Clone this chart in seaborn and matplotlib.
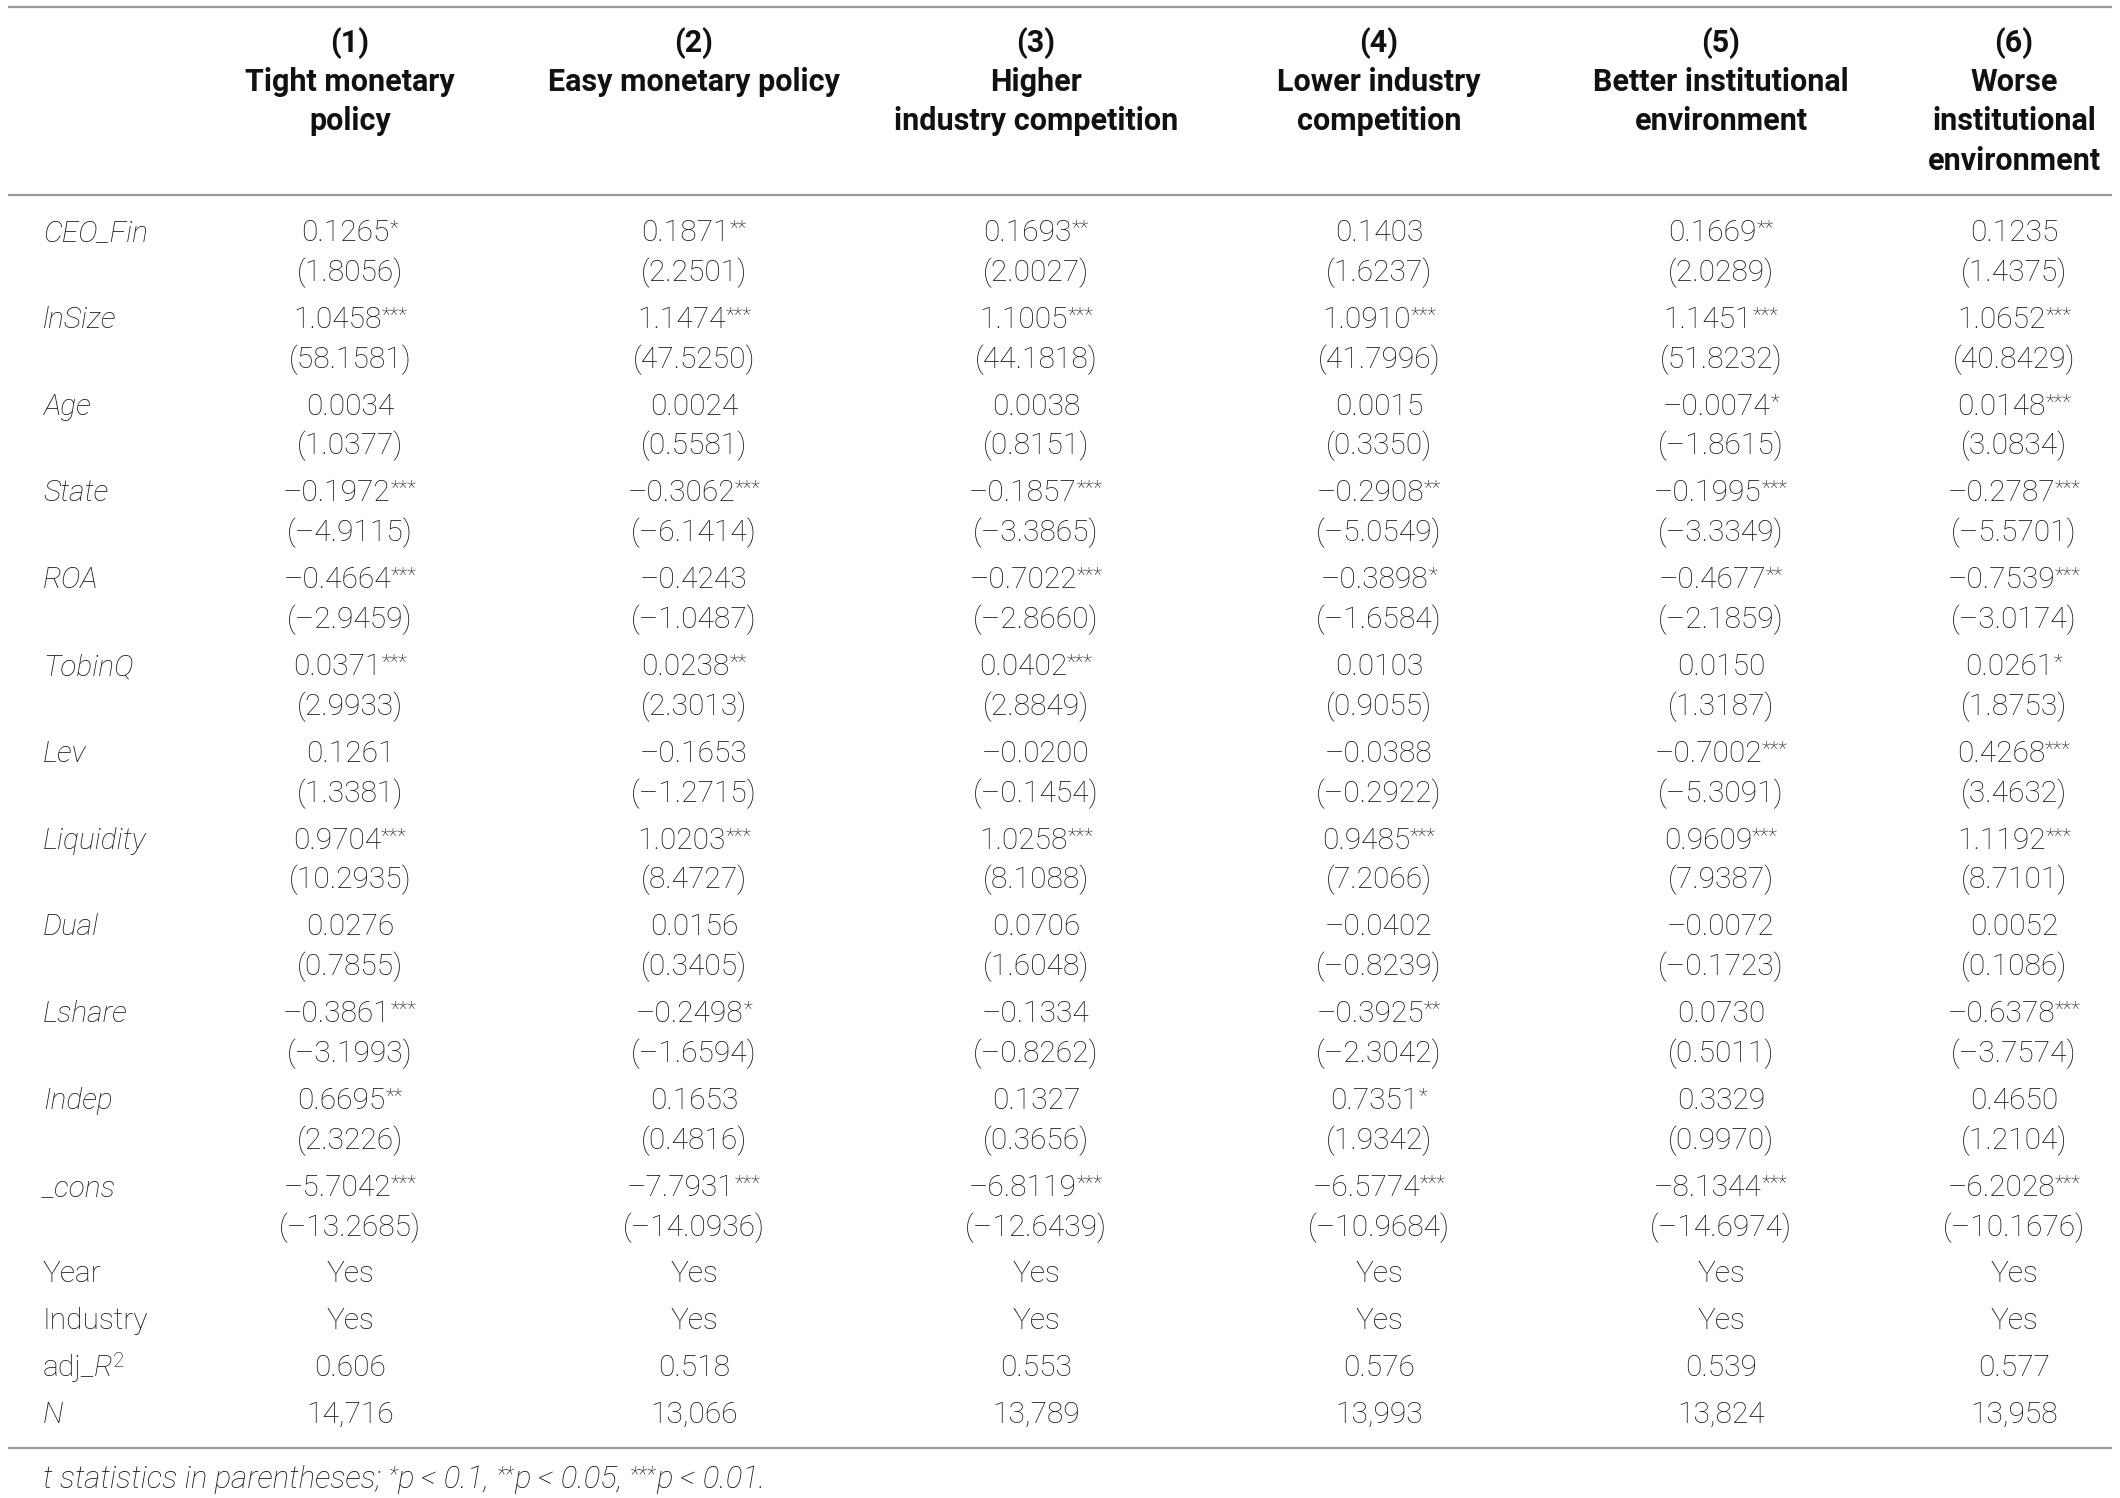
import matplotlib
matplotlib.use("Agg")
import matplotlib.pyplot as plt
import seaborn as sns

# ---------------- data ----------------
col_numbers = ["(1)", "(2)", "(3)", "(4)", "(5)", "(6)"]
col_titles = [
    ["Tight monetary", "policy"],
    ["Easy monetary policy"],
    ["Higher", "industry competition"],
    ["Lower industry", "competition"],
    ["Better institutional", "environment"],
    ["Worse", "institutional", "environment"],
]
var_names = ["CEO_Fin", "lnSize", "Age", "State", "ROA", "TobinQ", "Lev",
             "Liquidity", "Dual", "Lshare", "Indep", "_cons"]

coef_1 = [0.1265, 1.0458, 0.0034, -0.1972, -0.4664, 0.0371, 0.1261, 0.9704, 0.0276, -0.3861, 0.6695, -5.7042]
coef_2 = [0.1871, 1.1474, 0.0024, -0.3062, -0.4243, 0.0238, -0.1653, 1.0203, 0.0156, -0.2498, 0.1653, -7.7931]
coef_3 = [0.1693, 1.1005, 0.0038, -0.1857, -0.7022, 0.0402, -0.0200, 1.0258, 0.0706, -0.1334, 0.1327, -6.8119]
coef_4 = [0.1403, 1.0910, 0.0015, -0.2908, -0.3898, 0.0103, -0.0388, 0.9485, -0.0402, -0.3925, 0.7351, -6.5774]
coef_5 = [0.1669, 1.1451, -0.0074, -0.1995, -0.4677, 0.0150, -0.7002, 0.9609, -0.0072, 0.0730, 0.3329, -8.1344]
coef_6 = [0.1235, 1.0652, 0.0148, -0.2787, -0.7539, 0.0261, 0.4268, 1.1192, 0.0052, -0.6378, 0.4650, -6.2028]

tstat_1 = [1.8056, 58.1581, 1.0377, -4.9115, -2.9459, 2.9933, 1.3381, 10.2935, 0.7855, -3.1993, 2.3226, -13.2685]
tstat_2 = [2.2501, 47.5250, 0.5581, -6.1414, -1.0487, 2.3013, -1.2715, 8.4727, 0.3405, -1.6594, 0.4816, -14.0936]
tstat_3 = [2.0027, 44.1818, 0.8151, -3.3865, -2.8660, 2.8849, -0.1454, 8.1088, 1.6048, -0.8262, 0.3656, -12.6439]
tstat_4 = [1.6237, 41.7996, 0.3350, -5.0549, -1.6584, 0.9055, -0.2922, 7.2066, -0.8239, -2.3042, 1.9342, -10.9684]
tstat_5 = [2.0289, 51.8232, -1.8615, -3.3349, -2.1859, 1.3187, -5.3091, 7.9387, -0.1723, 0.5011, 0.9970, -14.6974]
tstat_6 = [1.4375, 40.8429, 3.0834, -5.5701, -3.0174, 1.8753, 3.4632, 8.7101, 0.1086, -3.7574, 1.2104, -10.1676]

stars_1 = [1, 3, 0, 3, 3, 3, 0, 3, 0, 3, 2, 3]
stars_2 = [2, 3, 0, 3, 0, 2, 0, 3, 0, 1, 0, 3]
stars_3 = [2, 3, 0, 3, 3, 3, 0, 3, 0, 0, 0, 3]
stars_4 = [0, 3, 0, 2, 1, 0, 0, 3, 0, 2, 1, 3]
stars_5 = [2, 3, 1, 3, 2, 0, 3, 3, 0, 0, 0, 3]
stars_6 = [0, 3, 3, 3, 3, 1, 3, 3, 0, 3, 0, 3]

year_fe = ["Yes"] * 6
industry_fe = ["Yes"] * 6
adj_r2 = [0.606, 0.518, 0.553, 0.576, 0.539, 0.577]
n_obs = [14716, 13066, 13789, 13993, 13824, 13958]

coefs = [coef_1, coef_2, coef_3, coef_4, coef_5, coef_6]
tstats = [tstat_1, tstat_2, tstat_3, tstat_4, tstat_5, tstat_6]
stars = [stars_1, stars_2, stars_3, stars_4, stars_5, stars_6]

# ---------------- style ----------------
sns.set_theme(style="white")
plt.rcParams["font.family"] = ["Roboto", "DejaVu Sans"]

TXT = "#111111"
RULE = "#9a9a9a"
FS = 21.5
FS_HEAD = 22
FS_STAR = 15
FS_NOTE = 22.4
W, H = 2120, 1498

fig = plt.figure(figsize=(W / 100, H / 100), dpi=100)
ax = fig.add_axes([0, 0, 1, 1])
ax.set_xlim(0, W)
ax.set_ylim(H, 0)
ax.axis("off")
renderer = fig.canvas.get_renderer()

col_x = [350, 694, 1036, 1379, 1721, 2014]
label_x = 43


def fmt(v):
    return ("\u2013" if v < 0 else "") + f"{abs(v):.4f}"


def segments(x, y, segs, ha="center"):
    """segs: list of (text, kwargs, dy). Lays out pieces left to right."""
    objs, widths = [], []
    for text, kw, dy in segs:
        base = dict(fontsize=FS, color=TXT, fontweight="light", va="baseline", ha="left")
        base.update(kw)
        t = ax.text(0, y - dy, text, **base)
        objs.append(t)
        widths.append(t.get_window_extent(renderer=renderer).width)
    total = sum(widths)
    left = x - total / 2 if ha == "center" else x
    for t, w in zip(objs, widths):
        t.set_x(left)
        left += w


def star_seg(n, style="normal"):
    return ("*" * n, dict(fontsize=FS_STAR, fontstyle=style), 7)


# rules
for yr in (7, 195, 1448):
    ax.plot([8, 2112], [yr, yr], color=RULE, lw=1.6, solid_capstyle="butt")

# header
hb = dict(fontweight="bold", fontsize=FS_HEAD)
for j, (num, lines) in enumerate(zip(col_numbers, col_titles)):
    segments(col_x[j], 52, [(num, hb, 0)])
    for k, line in enumerate(lines):
        segments(col_x[j], 91 + 39.5 * k, [(line, hb, 0)])

# coefficient rows
row0, pitch, tgap, boff = 231, 86.8, 40, 10
for i, name in enumerate(var_names):
    yc = row0 + i * pitch + boff
    segments(label_x, yc, [(name, dict(fontstyle="italic"), 0)], ha="left")
    for j in range(6):
        segs = [(fmt(coefs[j][i]), {}, 0)]
        if stars[j][i]:
            segs.append(star_seg(stars[j][i]))
        segments(col_x[j], yc, segs)
        segments(col_x[j], yc + tgap, [("(" + fmt(tstats[j][i]) + ")", {}, 0)])

# bottom rows
ys = [1272 + boff, 1319 + boff, 1366 + boff, 1413 + boff]
segments(label_x, ys[0], [("Year", {}, 0)], ha="left")
segments(label_x, ys[1], [("Industry", {}, 0)], ha="left")
segments(label_x, ys[2], [("adj_", {}, 0), ("R", dict(fontstyle="italic"), 0),
                          ("2", dict(fontsize=FS_STAR), 9)], ha="left")
segments(label_x, ys[3], [("N", dict(fontstyle="italic"), 0)], ha="left")
for j in range(6):
    segments(col_x[j], ys[0], [(year_fe[j], {}, 0)])
    segments(col_x[j], ys[1], [(industry_fe[j], {}, 0)])
    segments(col_x[j], ys[2], [(f"{adj_r2[j]:.3f}", {}, 0)])
    segments(col_x[j], ys[3], [(f"{n_obs[j]:,}", {}, 0)])

# footnote
it = dict(fontstyle="italic", fontsize=FS_NOTE)
sn = lambda n: ("*" * n, dict(fontsize=FS_STAR + 0.5, fontstyle="italic"), 7)
segments(label_x, 1488, [
    ("t statistics in parentheses; ", it, 0),
    sn(1), ("p < 0.1, ", it, 0),
    sn(2), ("p < 0.05, ", it, 0),
    sn(3), ("p < 0.01.", it, 0),
], ha="left")

fig.savefig("out.png", dpi=100, facecolor="white")
